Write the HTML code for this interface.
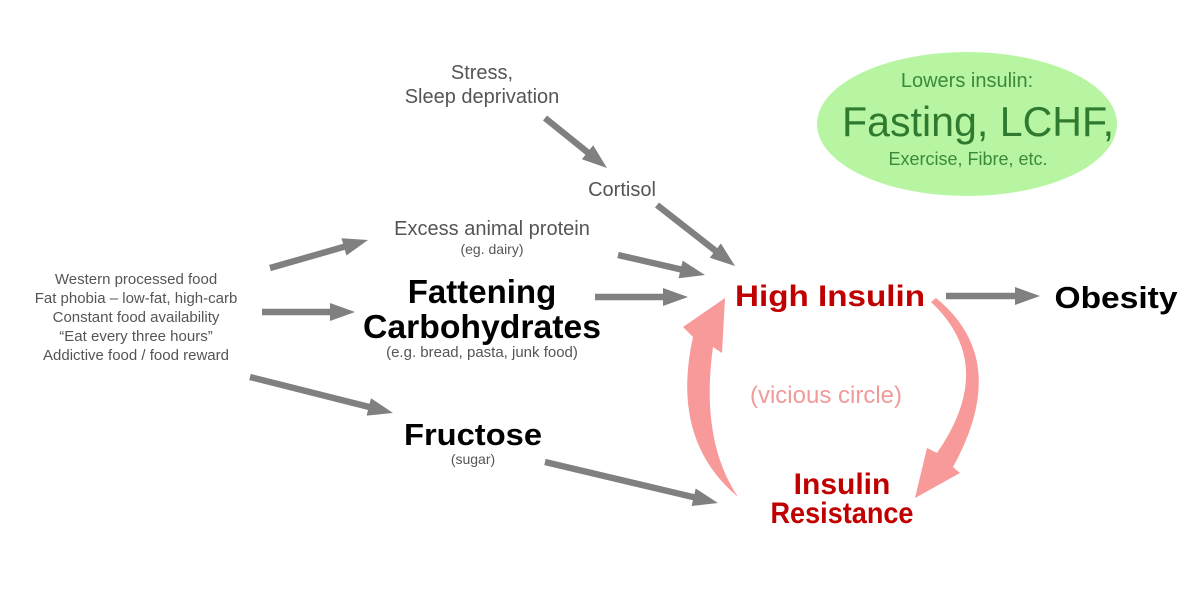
<!DOCTYPE html>
<html><head><meta charset="utf-8"><style>
html,body{margin:0;padding:0;background:#fff;}
svg{display:block;}
text{font-family:"Liberation Sans",sans-serif;}
.l{fill:#555;}
.b{font-weight:bold;fill:#000;}
.r{font-weight:bold;fill:#c00000;}
</style></head><body>
<svg width="1200" height="604" viewBox="0 0 1200 604" xmlns="http://www.w3.org/2000/svg">
<ellipse cx="967" cy="124" rx="150" ry="72" fill="#b7f5a3"/>
<text x="967" y="87" text-anchor="middle" font-size="20" fill="#3a8a3a">Lowers insulin:</text>
<text x="978" y="136" text-anchor="middle" font-size="42" fill="#2f7a2f" textLength="272" lengthAdjust="spacingAndGlyphs">Fasting, LCHF,</text>
<text x="968" y="165" text-anchor="middle" font-size="18" fill="#3a8a3a">Exercise, Fibre, etc.</text>

<g id="arrows" fill="#808080"></g>

<text x="482" y="79" text-anchor="middle" font-size="20" class="l">Stress,</text>
<text x="482" y="103" text-anchor="middle" font-size="20" class="l">Sleep deprivation</text>
<text x="622" y="196" text-anchor="middle" font-size="20" class="l">Cortisol</text>
<text x="492" y="235" text-anchor="middle" font-size="20" class="l">Excess animal protein</text>
<text x="492" y="254" text-anchor="middle" font-size="14" class="l">(eg. dairy)</text>
<text x="482" y="303" text-anchor="middle" font-size="33" class="b">Fattening</text>
<text x="482" y="338" text-anchor="middle" font-size="33" class="b" textLength="238" lengthAdjust="spacingAndGlyphs">Carbohydrates</text>
<text x="482" y="357" text-anchor="middle" font-size="15" class="l">(e.g. bread, pasta, junk food)</text>
<text x="473" y="445" text-anchor="middle" font-size="31" class="b" textLength="138" lengthAdjust="spacingAndGlyphs">Fructose</text>
<text x="473" y="464" text-anchor="middle" font-size="14" class="l">(sugar)</text>
<g font-size="15" class="l" text-anchor="middle">
<text x="136" y="284">Western processed food</text>
<text x="136" y="303">Fat phobia – low-fat, high-carb</text>
<text x="136" y="322">Constant food availability</text>
<text x="136" y="341">“Eat every three hours”</text>
<text x="136" y="360">Addictive food / food reward</text>
</g>
<text x="830" y="306" text-anchor="middle" font-size="30" class="r" textLength="190" lengthAdjust="spacingAndGlyphs">High Insulin</text>
<text x="842" y="494" text-anchor="middle" font-size="30" class="r">Insulin</text>
<text x="842" y="523" text-anchor="middle" font-size="30" class="r" textLength="143" lengthAdjust="spacingAndGlyphs">Resistance</text>
<text x="826" y="403" text-anchor="middle" font-size="24" fill="#f19a9a">(vicious circle)</text>
<text x="1116" y="308" text-anchor="middle" font-size="31" class="b" textLength="123" lengthAdjust="spacingAndGlyphs">Obesity</text>

<path fill="#f8999a" d="M738,497 Q670,440 693,337 L683,327 L725,298 L722,353 L713,347 Q700,440 738,497 Z"/>
<path fill="#f8999a" d="M931,302 Q998,365 937,453 L927,448 L915,498 L960,473 L953,467 Q1012,360 936,298 Z"/>
</svg>
<script>
var A=[[545,118,607,168],[657,205,735,266],[618,255,705,275],[595,297,688,297],[270,268,368,240],[262,312,355,312],[250,377,393,413],[545,462,718,503],[946,296,1040,296]];
var g=document.getElementById('arrows'),ns='http://www.w3.org/2000/svg';
A.forEach(function(a){var dx=a[2]-a[0],dy=a[3]-a[1],L=Math.hypot(dx,dy),ux=dx/L,uy=dy/L,px=-uy,py=ux,w=3.2,h=9,hl=25;
var bx=a[2]-ux*hl,by=a[3]-uy*hl;
var pts=[[a[0]+px*w,a[1]+py*w],[bx+px*w,by+py*w],[bx+px*h,by+py*h],[a[2],a[3]],[bx-px*h,by-py*h],[bx-px*w,by-py*w],[a[0]-px*w,a[1]-py*w]];
var p=document.createElementNS(ns,'polygon');p.setAttribute('points',pts.map(function(q){return q[0].toFixed(1)+','+q[1].toFixed(1)}).join(' '));g.appendChild(p);});
</script>
</body></html>
